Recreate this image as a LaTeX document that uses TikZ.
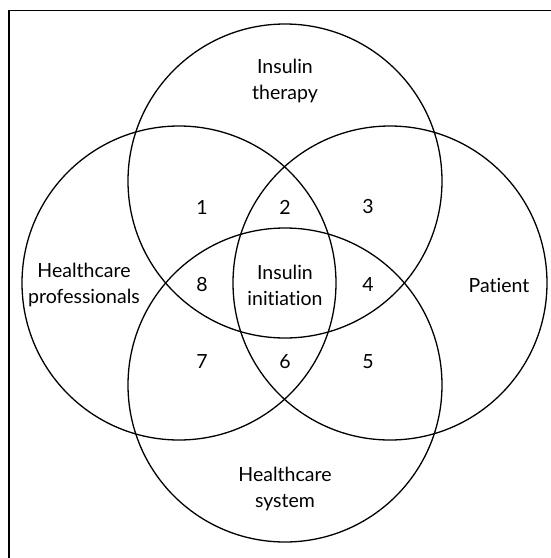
\documentclass[tikz,border=0pt]{standalone}
\usepackage{fontspec}
\setmainfont[Ligatures={NoCommon,NoRare,NoDiscretionary}]{Lato}
\begin{document}
\begin{tikzpicture}[x=1pt,y=-1pt,
  venn/.style={circle,draw=black,line width=1.3pt,minimum size=314pt,inner sep=0pt},
  lbl/.style={align=center,font=\fontsize{19.5}{26}\selectfont,inner sep=0pt},
  num/.style={font=\fontsize{19.5}{26}\selectfont,inner sep=0pt}]
\useasboundingbox (0,0) rectangle (551,558);
\draw[line width=1.3pt] (9,560) -- (9,10.5) -- (553,10.5);
\node[venn] (therapy) at (285,181) {};
\node[venn] (prof) at (179,283) {};
\node[venn] (patient) at (390,283) {};
\node[venn] (system) at (285,385) {};
\node[lbl] (tlab) at (285,81) {Insulin\\therapy};
\node[lbl] (plab) at (84,285) {Healthcare\\professionals};
\node[lbl] (clab) at (285,285) {Insulin\\initiation};
\node[lbl] (pat) at (499,285) {Patient};
\node[lbl] (slab) at (285,489) {Healthcare\\system};
\node[num] (n1) at (202,207) {1};
\node[num] (n2) at (285,207) {2};
\node[num] (n3) at (368,207) {3};
\node[num] (n4) at (368,285) {4};
\node[num] (n5) at (368,362) {5};
\node[num] (n6) at (285,362) {6};
\node[num] (n7) at (202,362) {7};
\node[num] (n8) at (202,285) {8};
\end{tikzpicture}
\end{document}
